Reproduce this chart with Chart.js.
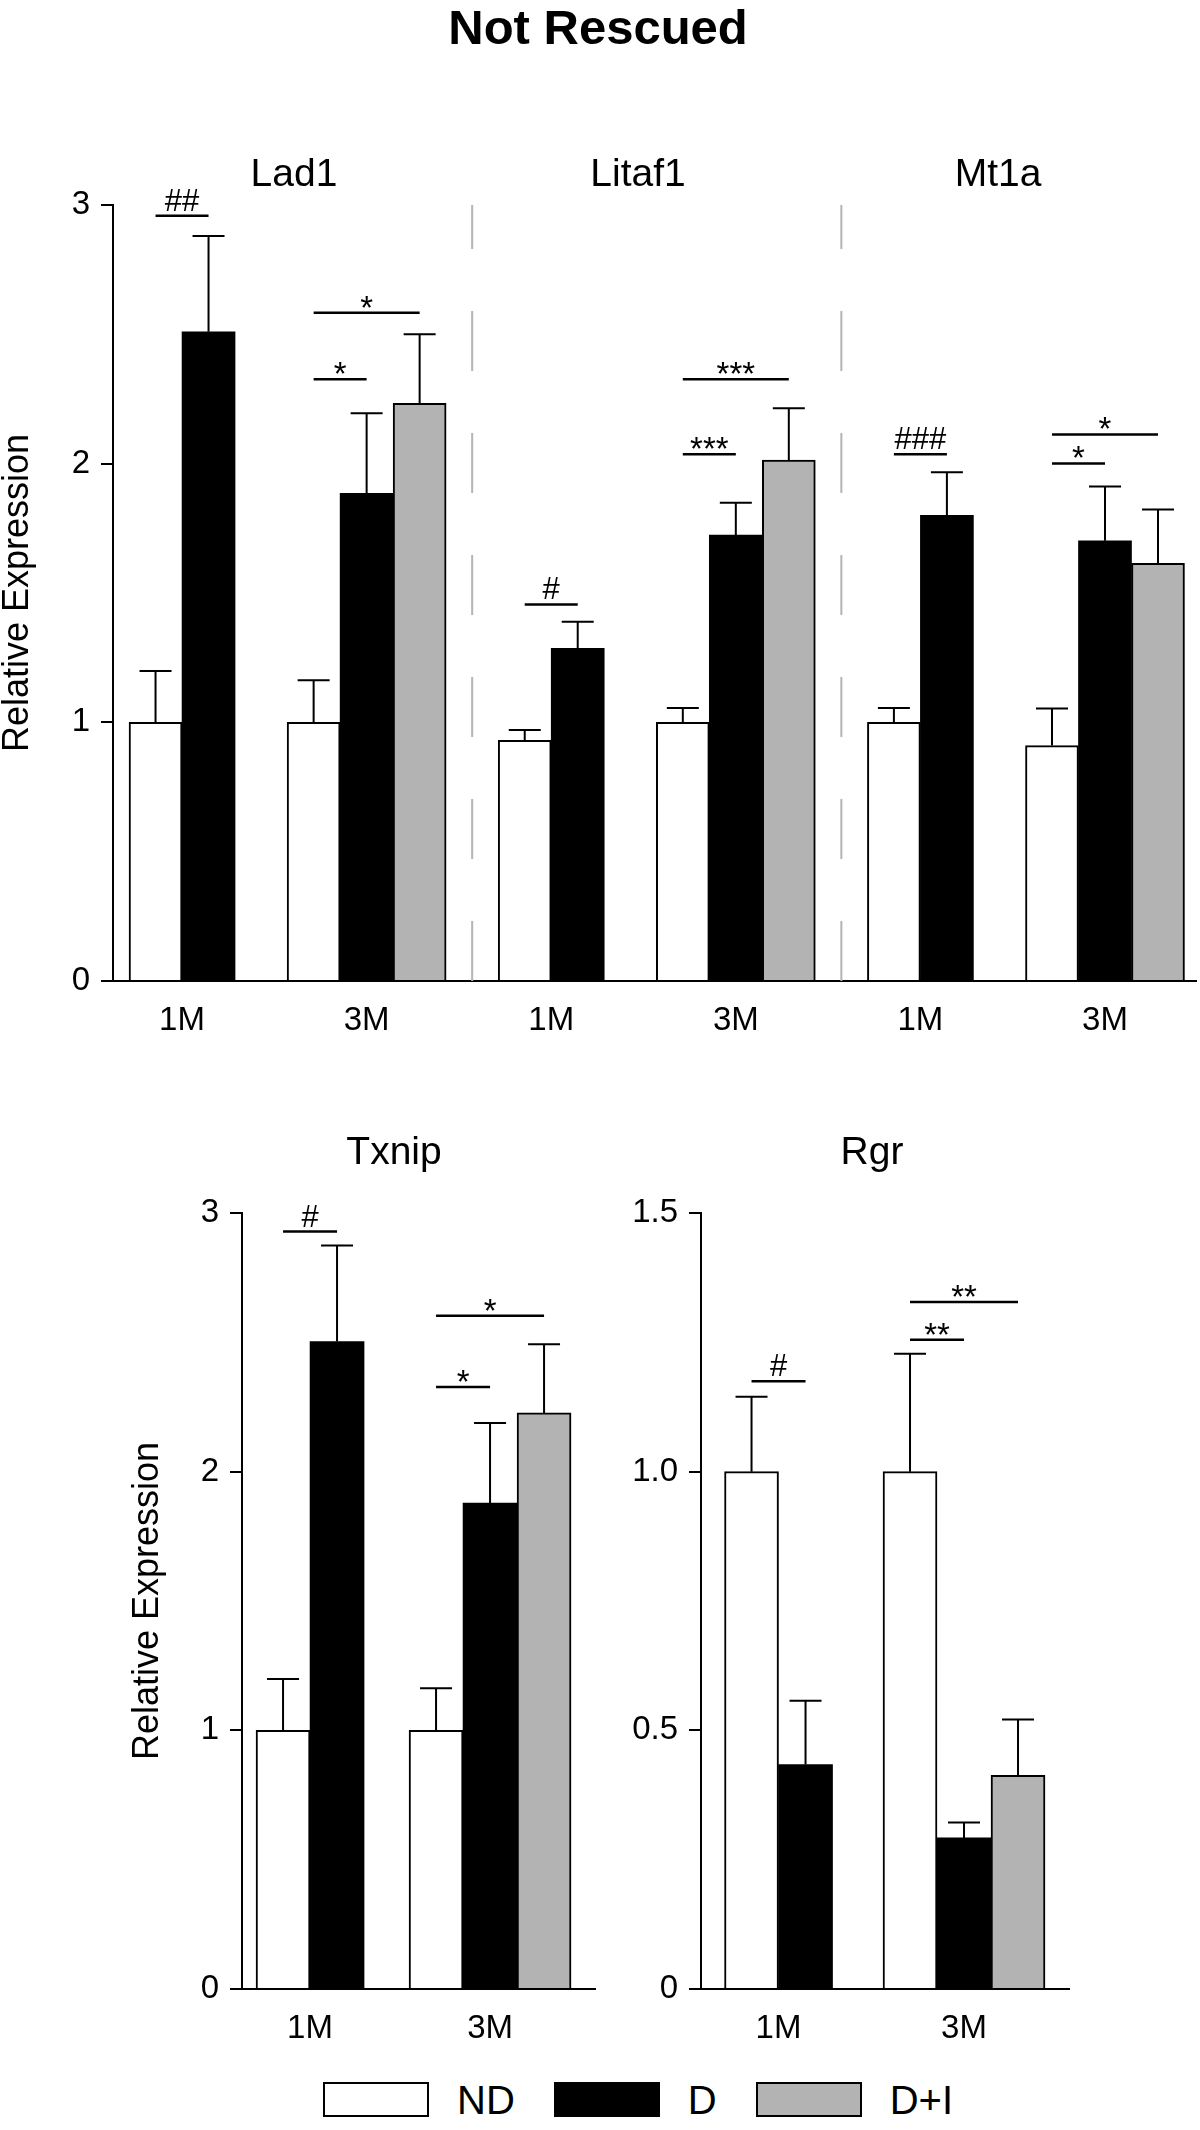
<!DOCTYPE html>
<html>
<head>
<meta charset="utf-8">
<script src="https://cdn.jsdelivr.net/npm/chart.js@4.4.0/dist/chart.umd.min.js"></script>
<style>
  body { margin: 0; background: #fff; font-family: 'Liberation Sans', Arial, sans-serif; }
  #page { position: relative; width: 1200px; height: 2130px; overflow: hidden; }
  canvas { position: absolute; }
  .txt { position: absolute; white-space: nowrap; line-height: 1; color: #000; transform: translateX(-50%); }
  #title { font-weight: bold; font-size: 49px; top: 3px; left: 598px; }
  .gene { font-size: 39px; }
  #legend { position: absolute; left: 323px; top: 2082px; height: 35px; display: flex; align-items: center; }
  #legend .box { width: 106px; height: 35px; box-sizing: border-box; border: 2.5px solid #000; margin-right: 28px; }
  #legend .lab { font-size: 40px; line-height: 1; margin-right: 39px; }
</style>
</head>
<body>
<div id="page">
  <div id="title" class="txt">Not Rescued</div>
  <canvas id="top" width="1200" height="880" style="left:0;top:150px"></canvas>
  <canvas id="txnip" width="470" height="878" style="left:130px;top:1160px"></canvas>
  <canvas id="rgr" width="454" height="878" style="left:620px;top:1160px"></canvas>
  <div id="legend"></div>
</div>
<script>
// series
const seriesNames = ["ND", "D", "D+I"];
const seriesFill = ["#ffffff", "#000000", "#b3b3b3"];

// top panel: Lad1 / Litaf1 / Mt1a
const topGenes = ["Lad1", "Litaf1", "Mt1a"];
const topCats = ["1M", "3M", "1M", "3M", "1M", "3M"];
const topND = [1.0, 1.0, 0.93, 1.0, 1.0, 0.91];
const topD = [2.51, 1.885, 1.286, 1.724, 1.80, 1.702];
const topDI = [null, 2.233, null, 2.014, null, 1.615];
const topNDErr = [0.198, 0.163, 0.04, 0.055, 0.055, 0.143];
const topDErr = [0.37, 0.31, 0.103, 0.125, 0.167, 0.21];
const topDIErr = [null, 0.267, null, 0.20, null, 0.208];
// [category, from series, to series, height, text]
const topSig = [
  [0, 0, 1, 2.958, "##"],
  [1, 0, 2, 2.583, "*"],
  [1, 0, 1, 2.326, "*"],
  [2, 0, 1, 1.456, "#"],
  [3, 0, 1, 2.036, "***"],
  [3, 0, 2, 2.326, "***"],
  [4, 0, 1, 2.036, "###"],
  [5, 0, 1, 2.001, "*"],
  [5, 0, 2, 2.113, "*"]
];

// Txnip
const txCats = ["1M", "3M"];
const txND = [1.0, 1.0];
const txD = [2.503, 1.879];
const txDI = [null, 2.227];
const txNDErr = [0.198, 0.163];
const txDErr = [0.371, 0.309];
const txDIErr = [null, 0.266];
const txSig = [
  [0, 0, 1, 2.928, "#"],
  [1, 0, 2, 2.603, "*"],
  [1, 0, 1, 2.327, "*"]
];

// Rgr
const rgCats = ["1M", "3M"];
const rgND = [1.0, 1.0];
const rgD = [0.434, 0.292];
const rgDI = [null, 0.413];
const rgNDErr = [0.145, 0.228];
const rgDErr = [0.123, 0.03];
const rgDIErr = [null, 0.108];
const rgSig = [
  [0, 0, 1, 1.175, "#"],
  [1, 0, 1, 1.255, "**"],
  [1, 0, 2, 1.328, "**"]
];

const geneTitleX = [294, 638, 998];

Chart.defaults.font.family = "'Liberation Sans', Arial, sans-serif";
Chart.defaults.color = "#000";

// upper error caps
const errorBars = {
  id: "errorBars",
  afterDatasetsDraw(chart) {
    const ctx = chart.ctx, y = chart.scales.y;
    ctx.save();
    ctx.strokeStyle = "#000";
    ctx.lineWidth = 2;
    chart.data.datasets.forEach((ds, d) => {
      const meta = chart.getDatasetMeta(d);
      meta.data.forEach((bar, i) => {
        const v = ds.data[i], e = ds.errors[i];
        if (v == null || e == null) return;
        const top = y.getPixelForValue(v + e);
        ctx.beginPath();
        ctx.moveTo(bar.x, bar.y);
        ctx.lineTo(bar.x, top);
        ctx.moveTo(bar.x - 16, top);
        ctx.lineTo(bar.x + 16, top);
        ctx.stroke();
      });
    });
    ctx.restore();
  }
};

// significance lines + grey dashed separators
const marks = {
  id: "marks",
  afterDraw(chart, args, opts) {
    const ctx = chart.ctx, y = chart.scales.y, area = chart.chartArea;
    const bar = (s, i) => chart.getDatasetMeta(s).data[i];
    const barsAt = (i) => chart.data.datasets
      .map((ds, s) => ds.data[i] == null ? null : bar(s, i))
      .filter(b => b);
    ctx.save();
    (opts.dividers || []).forEach(c => {
      const r = Math.max(...barsAt(c).map(b => b.x + b.width / 2));
      const l = Math.min(...barsAt(c + 1).map(b => b.x - b.width / 2));
      const x = (r + l) / 2;
      ctx.strokeStyle = "#b4b4b4";
      ctx.lineWidth = 2;
      ctx.setLineDash([60, 62]);
      ctx.beginPath();
      ctx.moveTo(x, area.bottom);
      ctx.lineTo(x, area.top);
      ctx.stroke();
    });
    ctx.setLineDash([]);
    ctx.strokeStyle = "#000";
    ctx.fillStyle = "#000";
    ctx.lineWidth = 2.5;
    ctx.textAlign = "center";
    ctx.textBaseline = "alphabetic";
    (opts.sig || []).forEach(([c, a, b, h, txt]) => {
      const x1 = bar(a, c).x, x2 = bar(b, c).x, yy = y.getPixelForValue(h);
      ctx.beginPath();
      ctx.moveTo(x1, yy);
      ctx.lineTo(x2, yy);
      ctx.stroke();
      const star = txt.indexOf("*") >= 0;
      ctx.font = (star ? "33px " : "31px ") + Chart.defaults.font.family;
      ctx.fillText(txt, (x1 + x2) / 2, star ? yy + 6 : yy - 5);
    });
    ctx.restore();
  }
};

function drawPanel(id, o) {
  return new Chart(document.getElementById(id), {
    type: "bar",
    data: {
      labels: o.cats.map((c, i) => i),
      datasets: seriesNames.map((name, s) => ({
        label: name,
        data: o.values[s],
        errors: o.errors[s],
        backgroundColor: seriesFill[s],
        borderColor: "#000",
        borderWidth: s === 1 ? 0 : 2,
        barThickness: o.barWidth,
        skipNull: true
      }))
    },
    options: {
      responsive: false,
      animation: false,
      layout: { padding: { top: o.padTop, right: o.padRight, bottom: 0, left: 0 } },
      plugins: {
        legend: { display: false },
        tooltip: { enabled: false },
        marks: { sig: o.sig, dividers: o.dividers }
      },
      scales: {
        x: {
          type: "linear",
          min: o.xMin,
          max: o.xMax,
          offset: false,
          afterBuildTicks: s => { s.ticks = o.cats.map((c, i) => ({ value: i })); },
          afterFit: s => { s.height = 49; },
          grid: { display: false },
          border: { display: true, color: "#000", width: 2 },
          ticks: {
            font: { size: 33, lineHeight: 1 },
            padding: 15,
            maxRotation: 0,
            autoSkip: false,
            callback: v => o.cats[v]
          }
        },
        y: {
          min: 0,
          max: o.yMax,
          afterFit: s => { s.width = o.axisW; },
          grid: { drawOnChartArea: false, drawTicks: true, tickLength: 12, color: "#000", lineWidth: 2 },
          border: { display: true, color: "#000", width: 2 },
          ticks: { stepSize: o.yStep, font: { size: 33, lineHeight: 1 }, padding: 11, callback: o.yFmt },
          title: {
            display: !!o.yTitle,
            text: o.yTitle || "",
            font: { size: 36, lineHeight: 1 },
            padding: 0
          }
        }
      }
    },
    plugins: [errorBars, marks]
  });
}

drawPanel("top", {
  cats: topCats,
  values: [topND, topD, topDI],
  errors: [topNDErr, topDErr, topDIErr],
  sig: topSig,
  dividers: [1, 3],
  barWidth: 53,
  padTop: 55, padRight: 4, axisW: 113,
  xMin: -0.374, xMax: 5.493,
  yMax: 3, yStep: 1, yFmt: v => v,
  yTitle: "Relative Expression"
});

drawPanel("txnip", {
  cats: txCats,
  values: [txND, txD, txDI],
  errors: [txNDErr, txDErr, txDIErr],
  sig: txSig,
  barWidth: 54,
  padTop: 53, padRight: 5, axisW: 112,
  xMin: -0.378, xMax: 1.583,
  yMax: 3, yStep: 1, yFmt: v => v,
  yTitle: "Relative Expression"
});

drawPanel("rgr", {
  cats: rgCats,
  values: [rgND, rgD, rgDI],
  errors: [rgNDErr, rgDErr, rgDIErr],
  sig: rgSig,
  barWidth: 54,
  padTop: 53, padRight: 5, axisW: 81,
  xMin: -0.418, xMax: 1.566,
  yMax: 1.5, yStep: 0.5, yFmt: v => v === 0 ? "0" : v.toFixed(1)
});

// gene titles
const page = document.getElementById("page");
topGenes.forEach((g, i) => {
  page.insertAdjacentHTML("beforeend", `<div class="txt gene" style="left:${geneTitleX[i]}px;top:153px">${g}</div>`);
});
page.insertAdjacentHTML("beforeend", `<div class="txt gene" style="left:394px;top:1131px">Txnip</div>`);
page.insertAdjacentHTML("beforeend", `<div class="txt gene" style="left:872px;top:1131px">Rgr</div>`);

// legend
const legend = document.getElementById("legend");
seriesNames.forEach((n, s) => {
  legend.insertAdjacentHTML("beforeend",
    `<div class="box" style="background:${seriesFill[s]}"></div><div class="lab">${n}</div>`);
});
</script>
</body>
</html>
